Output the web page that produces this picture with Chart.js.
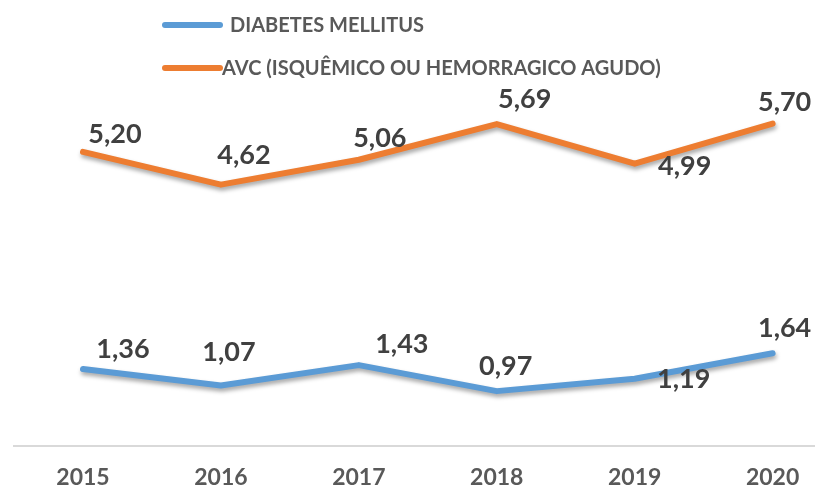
<!DOCTYPE html>
<html>
<head>
<meta charset="utf-8">
<script src="https://cdn.jsdelivr.net/npm/chart.js@4.4.1/dist/chart.umd.min.js"></script>
<style>
  html, body { margin: 0; padding: 0; background: #ffffff; }
  #box { width: 815px; height: 490px; }
</style>
</head>
<body>
<div id="box"><canvas id="myChart"></canvas></div>
<script>
var years = [2015, 2016, 2017, 2018, 2019, 2020];
var diabetes = [1.36, 1.07, 1.43, 0.97, 1.19, 1.64];
var avc = [5.20, 4.62, 5.06, 5.69, 4.99, 5.70];
var seriesNames = ["DIABETES MELLITUS", "AVC (ISQUÊMICO OU HEMORRAGICO AGUDO)"];

function toPoints(vals) {
    return vals.map(function (v, i) { return { x: years[i], y: v }; });
}

// shadow under the thick lines, like the excel original
var lineShadow = {
    id: 'lineShadow',
    beforeDatasetDraw: function (chart) {
        var ctx = chart.ctx;
        ctx.save();
        ctx.shadowColor = 'rgba(0,0,0,0.35)';
        ctx.shadowBlur = 4;
        ctx.shadowOffsetX = 1;
        ctx.shadowOffsetY = 3;
    },
    afterDatasetDraw: function (chart) {
        chart.ctx.restore();
    }
};

// value labels, nudged per point the way they sit in the picture
var valueLabels = {
    id: 'valueLabels',
    afterDatasetsDraw: function (chart, args, opts) {
        var ctx = chart.ctx;
        ctx.save();
        ctx.font = 'bold 27px Lato';
        ctx.fillStyle = '#404040';
        ctx.textAlign = 'center';
        ctx.textBaseline = 'middle';
        chart.data.datasets.forEach(function (ds, d) {
            var meta = chart.getDatasetMeta(d);
            meta.data.forEach(function (pt, i) {
                var off = opts.offsets[d][i];
                var txt = ds.data[i].y.toFixed(2).replace('.', ',');
                ctx.fillText(txt, pt.x + off[0], pt.y + off[1]);
            });
        });
        ctx.restore();
    }
};

// legend stacked in two rows at the top left
var stackedLegend = {
    id: 'stackedLegend',
    afterDraw: function (chart, args, opts) {
        var ctx = chart.ctx;
        ctx.save();
        ctx.font = 'bold 20px Lato';
        ctx.textBaseline = 'middle';
        ctx.lineCap = 'round';
        ctx.lineWidth = 6;
        chart.data.datasets.forEach(function (ds, d) {
            var y = opts.rows[d];
            ctx.strokeStyle = ds.borderColor;
            ctx.beginPath();
            ctx.moveTo(opts.x0, y);
            ctx.lineTo(opts.x1, y);
            ctx.stroke();
            ctx.fillStyle = '#595959';
            ctx.fillText(ds.label, opts.textX[d], y + 1);
        });
        ctx.restore();
    }
};

var ctx = document.getElementById('myChart');
var myChart = new Chart(ctx, {
    type: 'line',
    data: {
        datasets: [{
            label: seriesNames[0],
            data: toPoints(diabetes),
            borderColor: '#5B9BD5',
            backgroundColor: '#5B9BD5',
            borderWidth: 6,
            pointRadius: 0,
            borderJoinStyle: 'round',
            borderCapStyle: 'round',
            tension: 0
        }, {
            label: seriesNames[1],
            data: toPoints(avc),
            borderColor: '#ED7D31',
            backgroundColor: '#ED7D31',
            borderWidth: 6,
            pointRadius: 0,
            borderJoinStyle: 'round',
            borderCapStyle: 'round',
            tension: 0
        }]
    },
    options: {
        responsive: true,
        maintainAspectRatio: false,
        animation: false,
        layout: { padding: { left: 14, right: 1, top: 50, bottom: 0 } },
        plugins: {
            legend: { display: false },
            tooltip: { enabled: false },
            valueLabels: {
                offsets: [
                    [[40, -20], [8, -33], [43, -21], [9, -25], [49, 1], [12, -25]],
                    [[32, -18], [23, -29], [21, -21], [28, -25], [50, 3], [12, -21]]
                ]
            },
            stackedLegend: { x0: 165, x1: 220, rows: [25, 68], textX: [230, 222] }
        },
        scales: {
            x: {
                type: 'linear',
                min: 2014.5,
                max: 2020.3,
                grid: { display: false },
                border: { display: true, color: '#d9d9d9', width: 2 },
                afterFit: function (scale) { scale.height = 44; },
                ticks: {
                    stepSize: 1,
                    includeBounds: false,
                    autoSkip: false,
                    maxRotation: 0,
                    padding: 12,
                    color: '#595959',
                    font: { family: 'Lato', weight: 'bold', size: 23, lineHeight: 1 },
                    callback: function (v) { return String(v); }
                }
            },
            y: {
                display: false,
                min: 0,
                max: 7
            }
        }
    },
    plugins: [lineShadow, valueLabels, stackedLegend]
});
</script>
</body>
</html>
